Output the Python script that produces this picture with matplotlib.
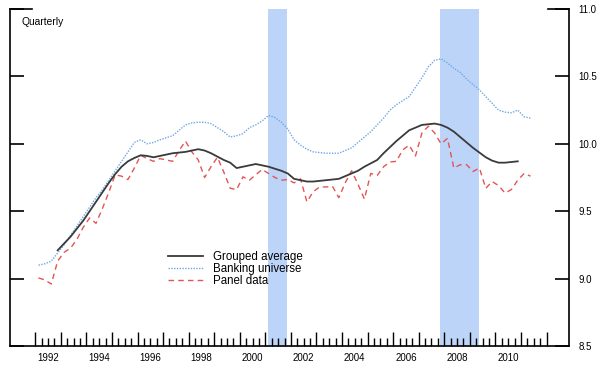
import matplotlib.pyplot as plt
import numpy as np

plt.rcParams['font.family'] = ['Liberation Sans', 'DejaVu Sans']

# Quarterly observations, 1992Q1 .. 2011Q2 (plotted mid-quarter)
quarters = np.arange(1992.125, 2011.5, 0.25)

banking_universe = [9.10, 9.11, 9.13, 9.19, 9.25, 9.32, 9.39, 9.46, 9.53, 9.60,
                    9.66, 9.73, 9.80, 9.87, 9.94, 10.01, 10.03, 10.00, 10.01, 10.03,
                    10.045, 10.06, 10.10, 10.14, 10.155, 10.16, 10.16, 10.15, 10.12, 10.09,
                    10.05, 10.06, 10.075, 10.12, 10.14, 10.17, 10.21, 10.195, 10.16, 10.11,
                    10.03, 9.99, 9.96, 9.94, 9.935, 9.93, 9.93, 9.93, 9.95, 9.97,
                    10.01, 10.05, 10.09, 10.14, 10.19, 10.25, 10.29, 10.32, 10.35, 10.42,
                    10.49, 10.57, 10.62, 10.63, 10.60, 10.56, 10.53, 10.48, 10.44, 10.40,
                    10.35, 10.30, 10.25, 10.235, 10.23, 10.25, 10.20, 10.19]

# grouped average runs from 1992Q4 to 2010Q4
grouped_start, grouped_end = 3, 76
grouped_average = [9.21, 9.26, 9.31, 9.37, 9.43, 9.50, 9.57, 9.64, 9.71, 9.775,
                   9.83, 9.87, 9.895, 9.915, 9.91, 9.90, 9.91, 9.92, 9.93, 9.935,
                   9.94, 9.95, 9.96, 9.95, 9.93, 9.905, 9.88, 9.86, 9.82, 9.83,
                   9.84, 9.85, 9.84, 9.83, 9.815, 9.80, 9.78, 9.74, 9.73, 9.72,
                   9.72, 9.725, 9.73, 9.735, 9.74, 9.76, 9.78, 9.80, 9.83, 9.855,
                   9.88, 9.93, 9.975, 10.02, 10.06, 10.10, 10.12, 10.14, 10.145, 10.15,
                   10.14, 10.12, 10.09, 10.05, 10.01, 9.97, 9.935, 9.90, 9.875, 9.86,
                   9.86, 9.865, 9.87]

panel_data = [9.005, 8.99, 8.96, 9.13, 9.195, 9.225, 9.29, 9.38, 9.45, 9.41,
              9.52, 9.64, 9.77, 9.76, 9.735, 9.82, 9.915, 9.89, 9.87, 9.89,
              9.88, 9.87, 9.95, 10.02, 9.94, 9.88, 9.75, 9.83, 9.90, 9.79,
              9.67, 9.66, 9.755, 9.73, 9.77, 9.81, 9.78, 9.75, 9.73, 9.735,
              9.71, 9.74, 9.57, 9.645, 9.68, 9.68, 9.685, 9.60, 9.71, 9.80,
              9.70, 9.59, 9.78, 9.765, 9.83, 9.865, 9.87, 9.955, 9.99, 9.91,
              10.08, 10.13, 10.08, 10.00, 10.04, 9.82, 9.845, 9.845, 9.795, 9.82,
              9.67, 9.72, 9.69, 9.635, 9.66, 9.73, 9.78, 9.76]

# recessions (shaded)
recession_start = [2001.1, 2007.84]
recession_end = [2001.85, 2009.37]

year_labels = ['1992', '1994', '1996', '1998', '2000', '2002', '2004', '2006', '2008', '2010']
label_pos = [int(y) + 0.5 for y in year_labels]

fig = plt.figure(figsize=(6, 3.68), dpi=100)
ax = fig.add_axes([10 / 600, 22 / 368, 559 / 600, 337 / 368])

for s, e in zip(recession_start, recession_end):
    ax.axvspan(s, e, color='#bcd4f8', lw=0, zorder=0)

ax.plot(quarters[grouped_start:grouped_end], grouped_average, color='#3a3a3a', lw=1.3,
        label='Grouped average', zorder=3)
ax.plot(quarters, banking_universe, color='#6fa8e6', lw=1.0, ls=(0, (1, 1)),
        label='Banking universe', zorder=2)
ax.plot(quarters, panel_data, color='#e35555', lw=1.0, ls=(0, (4, 3)),
        label='Panel data', zorder=2)

ax.set_xlim(1991.01, 2012.88)
ax.set_ylim(8.5, 11.0)

# spines
ax.spines['top'].set_visible(False)
for side in ['left', 'right', 'bottom']:
    ax.spines[side].set_linewidth(1.2)
# short stubs at the top of both value axes
ax.axhline(11.0, xmin=0, xmax=0.04, color='black', lw=1.2, clip_on=False)
ax.axhline(11.0, xmin=0.962, xmax=1, color='black', lw=1.2, clip_on=False)

# y axis: ticks on both sides, labels on the right
ax.set_yticks([8.5, 9.0, 9.5, 10.0, 10.5, 11.0])
ax.yaxis.set_major_formatter(plt.FormatStrFormatter('%.1f'))
ax.tick_params(axis='y', direction='in', length=10, width=1.2, left=True, right=True,
               labelleft=False, labelright=True, labelsize=7, pad=7)

# x axis: long ticks at years, short at quarters, labels mid-year
ax.set_xticks(np.arange(1992, 2013, 1))
ax.set_xticks(np.arange(1992, 2012.01, 0.25), minor=True)
ax.tick_params(axis='x', which='major', direction='in', length=10, width=1, labelbottom=False)
ax.tick_params(axis='x', which='minor', direction='in', length=6, width=1)

sec = ax.secondary_xaxis('bottom')
sec.set_xticks(label_pos, year_labels)
sec.tick_params(length=0, labelsize=7, pad=5)
sec.spines['bottom'].set_visible(False)

ax.text(0.02, 0.975, 'Quarterly', transform=ax.transAxes, fontsize=7.4, va='top', ha='left')

ax.legend(loc='upper left', bbox_to_anchor=(0.283, 0.282), frameon=False, fontsize=8.3,
          borderpad=0, borderaxespad=0, handlelength=3.0, handletextpad=0.85,
          labelspacing=0.0)

plt.savefig('out.png', dpi=100)
